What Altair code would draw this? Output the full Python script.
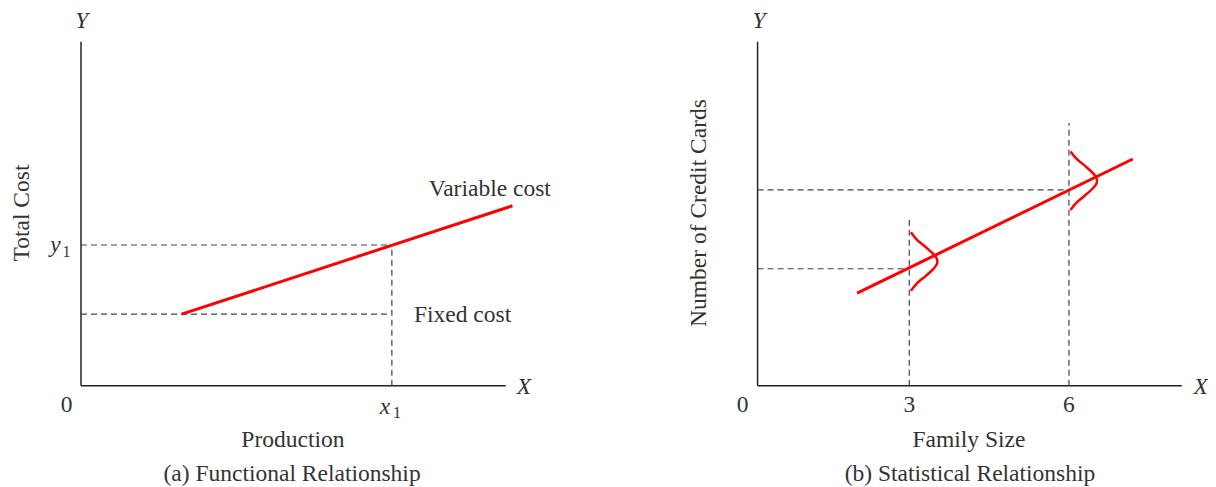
import altair as alt
import pandas as pd

FONT = "Liberation Serif"
TEXT_COLOR = "#333333"
AXIS_COLOR = "#222222"
GUIDE_COLOR = "#444444"
RED = "#ff0000"
FS = 23.5
SUB_FS = 16

# ---------------- (a) Functional relationship ----------------
a_axis_end = [10.0, 10.0]          # x extent, y extent of the axes
a_fixed_cost = 2.08
a_fixed_dash_end = 7.2
a_x1 = 7.32
a_y1 = 4.09
a_line_x = [2.37, 10.16]
a_line_y = [2.08, 5.23]

# ---------------- (b) Statistical relationship ----------------
b_axis_x0 = 0.15
b_axis_end = [8.12, 10.0]
b_line_x = [2.02, 7.20]
b_line_y = [2.69, 6.59]
b_obs_x = [3, 6]
b_pred_y = [3.40, 5.69]
b_vline_top = [4.82, 7.64]
b_bell_base = [3.03, 6.03]
b_bell_center = [3.61, 5.96]
bell_dx = [0.0, 0.11, 0.27, 0.42, 0.49, 0.49, 0.42, 0.27, 0.11, 0.0]
bell_dy = [0.85, 0.64, 0.43, 0.22, 0.07, -0.07, -0.22, -0.43, -0.64, -0.85]

# panel domains (data units visible across each panel)
A_XDOM = [-1.719, 12.409]
B_XDOM = [-2.660, 8.612]
YDOM = [-2.712, 10.980]
W, H = 600, 471


def sx(dom):
    return alt.Scale(domain=dom, nice=False, zero=False)


def rules(df, xdom, **mk):
    return alt.Chart(df).mark_rule(**mk).encode(
        x=alt.X("x:Q", scale=sx(xdom), axis=None),
        x2="x2:Q",
        y=alt.Y("y:Q", scale=sx(YDOM), axis=None),
        y2="y2:Q",
    )


def texts(df, xdom, **mk):
    base = dict(font=FONT, color=TEXT_COLOR, baseline="middle")
    base.update(mk)
    return alt.Chart(df).mark_text(**base).encode(
        x=alt.X("x:Q", scale=sx(xdom), axis=None),
        y=alt.Y("y:Q", scale=sx(YDOM), axis=None),
        text="t:N",
    )


def seg(rows):
    return pd.DataFrame(rows, columns=["x", "y", "x2", "y2"])


def lab(rows):
    return pd.DataFrame(rows, columns=["t", "x", "y"])


# ---------- panel a ----------
a_axes = seg([[0, 0, a_axis_end[0], 0], [0, 0, 0, a_axis_end[1]]])
a_dash = seg([
    [0, a_y1, a_x1, a_y1],
    [a_x1, 0, a_x1, a_y1],
    [0, a_fixed_cost, a_fixed_dash_end, a_fixed_cost],
])
a_red = seg([[a_line_x[0], a_line_y[0], a_line_x[1], a_line_y[1]]])

a_center = lab([
    ["0", -0.337, -0.56],
    ["Production", 4.99, -1.578],
    ["(a) Functional Relationship", 4.97, -2.567],
])
a_left = lab([
    ["Variable cost", 8.19, 5.72],
    ["Fixed cost", 7.84, 2.055],
])
a_ital = lab([
    ["Y", 0.02, 10.61],
    ["X", 10.43, -0.03],
    ["x", 7.16, -0.62],
    ["y", -0.60, 4.09],
])
a_sub = lab([["1", 7.44, -0.80], ["1", -0.34, 3.88]])
a_rot = lab([["Total Cost", -1.389, 5.02]])

panel_a = alt.layer(
    rules(a_axes, A_XDOM, color=AXIS_COLOR, strokeWidth=1.5),
    rules(a_dash, A_XDOM, color=GUIDE_COLOR, strokeWidth=1.2, strokeDash=[6, 4]),
    rules(a_red, A_XDOM, color=RED, strokeWidth=3),
    texts(a_center, A_XDOM, fontSize=FS, align="center"),
    texts(a_left, A_XDOM, fontSize=FS, align="left"),
    texts(a_ital, A_XDOM, fontSize=FS, align="center", fontStyle="italic"),
    texts(a_sub, A_XDOM, fontSize=SUB_FS, align="center"),
    texts(a_rot, A_XDOM, fontSize=FS, align="center", angle=270),
).properties(width=W, height=H)

# ---------- panel b ----------
b_axes = seg([[b_axis_x0, 0, b_axis_end[0], 0], [b_axis_x0, 0, b_axis_x0, b_axis_end[1]]])
b_dash_rows = []
for ox, py, top in zip(b_obs_x, b_pred_y, b_vline_top):
    b_dash_rows.append([b_axis_x0, py, ox, py])
    b_dash_rows.append([ox, 0, ox, top])
b_dash = seg(b_dash_rows)
b_red = seg([[b_line_x[0], b_line_y[0], b_line_x[1], b_line_y[1]]])

bell_rows = []
for k, (bx, cy) in enumerate(zip(b_bell_base, b_bell_center)):
    for i, (dx, dy) in enumerate(zip(bell_dx, bell_dy)):
        bell_rows.append({"bell": k, "i": i, "x": bx + dx, "y": cy + dy})
bells = pd.DataFrame(bell_rows)

bell_chart = alt.Chart(bells).mark_line(
    color=RED, strokeWidth=2.5, interpolate="catmull-rom"
).encode(
    x=alt.X("x:Q", scale=sx(B_XDOM), axis=None),
    y=alt.Y("y:Q", scale=sx(YDOM), axis=None),
    detail="bell:N",
    order="i:Q",
)

b_center = lab([
    ["0", -0.13, -0.56],
    ["3", 3.0, -0.56],
    ["6", 6.0, -0.56],
    ["Family Size", 4.12, -1.578],
    ["(b) Statistical Relationship", 4.14, -2.567],
])
b_ital = lab([
    ["Y", 0.177, 10.61],
    ["X", 8.475, -0.03],
])
b_rot = lab([["Number of Credit Cards", -0.95, 5.02]])

panel_b = alt.layer(
    rules(b_axes, B_XDOM, color=AXIS_COLOR, strokeWidth=1.5),
    rules(b_dash, B_XDOM, color=GUIDE_COLOR, strokeWidth=1.2, strokeDash=[6, 4]),
    rules(b_red, B_XDOM, color=RED, strokeWidth=3),
    bell_chart,
    texts(b_center, B_XDOM, fontSize=FS, align="center"),
    texts(b_ital, B_XDOM, fontSize=FS, align="center", fontStyle="italic"),
    texts(b_rot, B_XDOM, fontSize=FS, align="center", angle=270),
).properties(width=W, height=H)

chart = alt.HConcatChart(
    hconcat=[panel_a, panel_b], spacing=0, padding=0, background="white"
).configure_view(stroke=None)

chart.save("out.html", embed_options={"renderer": "svg", "actions": False})
